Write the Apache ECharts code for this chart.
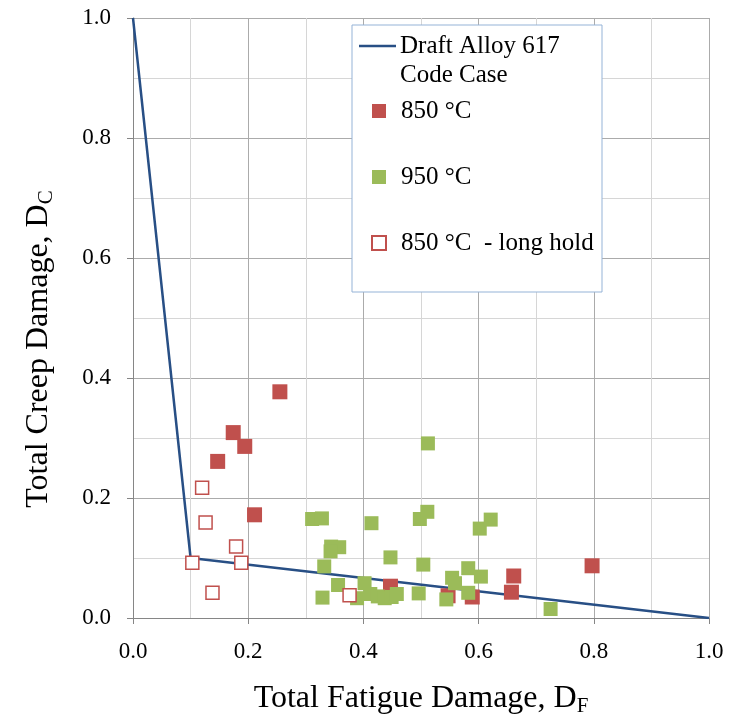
<!DOCTYPE html>
<html>
<head>
<meta charset="utf-8">
<script src="https://cdn.jsdelivr.net/npm/echarts@6/dist/echarts.min.js"></script>
<style>html,body{margin:0;padding:0;background:#fff;}#c{width:733px;height:716px;}</style>
</head>
<body>
<div id="c"></div>
<script>
// Code-case envelope (D_F, D_C)
const codeCaseX = [0.0, 0.1, 1.0];
const codeCaseY = [1.0, 0.1, 0.0];

// 850 °C
const t850X = [0.255, 0.174, 0.194, 0.147, 0.211, 0.447, 0.547, 0.589, 0.661, 0.657, 0.797];
const t850Y = [0.377, 0.309, 0.286, 0.261, 0.172, 0.053, 0.037, 0.035, 0.070, 0.043, 0.087];

// 950 °C
const t950X = [0.512, 0.311, 0.328, 0.414, 0.498, 0.511, 0.602, 0.621, 0.344, 0.358, 0.343,
               0.447, 0.332, 0.504, 0.582, 0.554, 0.604, 0.559, 0.356, 0.402, 0.329, 0.389,
               0.412, 0.425, 0.437, 0.449, 0.458, 0.496, 0.544, 0.582, 0.725];
const t950Y = [0.291, 0.165, 0.166, 0.158, 0.165, 0.177, 0.149, 0.164, 0.119, 0.118, 0.111,
               0.101, 0.086, 0.089, 0.083, 0.067, 0.069, 0.058, 0.055, 0.058, 0.034, 0.033,
               0.040, 0.036, 0.033, 0.035, 0.040, 0.041, 0.031, 0.042, 0.015];

// 850 °C - long hold
const longX = [0.120, 0.126, 0.179, 0.103, 0.188, 0.138, 0.376];
const longY = [0.217, 0.159, 0.119, 0.092, 0.092, 0.042, 0.038];

const xTicks = ['0.0', '0.2', '0.4', '0.6', '0.8', '1.0'];
const yTicks = ['0.0', '0.2', '0.4', '0.6', '0.8', '1.0'];

const names = ['Draft Alloy 617', '850 °C', '950 °C', '850 °C  - long hold'];
const zip = (a, b) => a.map((v, i) => [v, b[i]]);

const FONT = '"Liberation Serif", "Times New Roman", serif';
const RED = '#C0504D', GREEN = '#9BBB59', BLUE = '#284F85';

const chart = echarts.init(document.getElementById('c'));
const axisCommon = {
  type: 'value', min: 0, max: 1, interval: 0.2,
  axisLine: { show: true, onZero: false, lineStyle: { color: '#868686', width: 1 } },
  axisTick: { show: true, length: 6, lineStyle: { color: '#868686' } },
  splitLine: { show: true, lineStyle: { color: '#ABABAB', width: 1 } },
  minorTick: { show: false, splitNumber: 2 },
  minorSplitLine: { show: true, lineStyle: { color: '#D6D6D6', width: 1 } },
  nameLocation: 'middle'
};
const subRich = { sub: { fontFamily: FONT, fontSize: 21, color: '#000', verticalAlign: 'bottom', padding: [16, 0, 0, 0] } };
chart.setOption({
  animation: false,
  backgroundColor: '#ffffff',
  grid: { left: 133, right: 24, top: 18, bottom: 98, containLabel: false, outerBoundsMode: 'none' },
  xAxis: Object.assign({}, axisCommon, {
    axisLabel: { fontFamily: FONT, fontSize: 23, color: '#000', margin: 22,
      formatter: v => xTicks[Math.round(v * 5)] },
    name: 'Total Fatigue Damage, D{sub|F}',
    nameGap: 62,
    nameTextStyle: { fontFamily: FONT, fontSize: 32, color: '#000', rich: subRich }
  }),
  yAxis: Object.assign({}, axisCommon, {
    axisLabel: { fontFamily: FONT, fontSize: 23, color: '#000', margin: 22,
      formatter: v => yTicks[Math.round(v * 5)] },
    name: 'Total Creep Damage, D{sub|C}',
    nameRotate: 90,
    nameGap: 76,
    nameTextStyle: { fontFamily: FONT, fontSize: 32, color: '#000', rich: subRich, padding: [0, 62, 0, 0] }
  }),
  graphic: [
    { type: 'rect', z: 3, shape: { x: 352, y: 25, width: 250, height: 267 },
      style: { fill: '#ffffff', stroke: '#95B3D7', lineWidth: 1 } },
    { type: 'text', z: 10, left: 400, top: 63,
      style: { text: 'Code Case', font: '25px ' + FONT, fill: '#000' } }
  ],
  legend: [
    { data: [{ name: names[0], icon: 'rect' }], left: 359, top: 32, orient: 'vertical', padding: 0,
      itemWidth: 37, itemHeight: 2.5, itemGap: 0,
      textStyle: { fontFamily: FONT, fontSize: 25, lineHeight: 28, color: '#000', padding: [0, 0, 0, -1] } },
    { data: [names[1], names[2], names[3]], left: 371, top: 97, orient: 'vertical', padding: 0,
      itemWidth: 14, itemHeight: 14, itemGap: 38, icon: 'rect',
      textStyle: { fontFamily: FONT, fontSize: 25, lineHeight: 28, color: '#000', padding: [0, 0, 0, 10] } }
  ],
  series: [
    { name: names[0], type: 'line', data: zip(codeCaseX, codeCaseY), symbol: 'none', z: 2,
      lineStyle: { color: BLUE, width: 2.5 }, itemStyle: { color: BLUE } },
    { name: names[1], type: 'scatter', data: zip(t850X, t850Y), symbol: 'rect', symbolSize: 15, z: 3,
      itemStyle: { color: RED, opacity: 1 } },
    { name: names[2], type: 'scatter', data: zip(t950X, t950Y), symbol: 'rect', symbolSize: 14, z: 3,
      itemStyle: { color: GREEN, opacity: 1 } },
    { name: names[3], type: 'scatter', data: zip(longX, longY), symbol: 'rect', symbolSize: 13, z: 3,
      itemStyle: { color: '#ffffff', borderColor: RED, borderWidth: 1.5, opacity: 1 } }
  ]
});
</script>
</body>
</html>
